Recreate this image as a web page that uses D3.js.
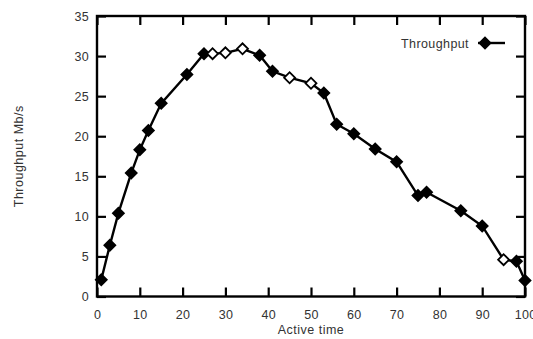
<!DOCTYPE html>
<html><head><meta charset="utf-8">
<script src="https://cdn.jsdelivr.net/npm/d3@7"></script>
<style>
body{margin:0;background:#fff;}
text{font-family:"Liberation Sans",Arial,sans-serif;fill:#333;}
</style></head>
<body><svg id="c" width="533" height="339"></svg>
<script>
const activeTime = [1,3,5,8,10,12,15,21,25,27,30,34,38,41,45,50,53,56,60,65,70,75,77,85,90,95,98,100];
const throughput = [2.1,6.4,10.4,15.4,18.3,20.7,24.1,27.7,30.3,30.3,30.4,30.9,30.1,28.1,27.3,26.6,25.4,21.5,20.3,18.4,16.8,12.6,13.0,10.7,8.8,4.6,4.4,2.0];
const openMarker = [false,false,false,false,false,false,false,false,false,true,true,true,false,false,true,true,false,false,false,false,false,false,false,false,false,true,false,false];
const xTicks = [0,10,20,30,40,50,60,70,80,90,100];
const yTicks = [0,5,10,15,20,25,30,35];
const seriesName = "Throughput";
const xTitle = "Active time";
const yTitle = "Throughput Mb/s";

const svg = d3.select("#c");
const L=97,R=525,T=16,B=296.5;
const x = d3.scaleLinear().domain([0,100]).range([L,R]);
const y = d3.scaleLinear().domain([0,35]).range([B,T]);
const tl = 9;

function styleAxis(g){
  g.select(".domain").remove();
  g.selectAll("line").attr("stroke","#000").attr("stroke-width",2.2);
  g.selectAll("text").attr("font-size","12.5px").attr("letter-spacing","0.3px").attr("fill","#333");
}
svg.append("g").attr("transform",`translate(0,${B})`)
  .call(d3.axisBottom(x).tickValues(xTicks).tickSize(-tl).tickPadding(14).tickFormat(d3.format("d")))
  .call(styleAxis);
svg.append("g").attr("transform",`translate(0,${T})`)
  .call(d3.axisTop(x).tickValues(xTicks).tickSize(-tl).tickFormat(""))
  .call(styleAxis);
svg.append("g").attr("transform",`translate(${L},0)`)
  .call(d3.axisLeft(y).tickValues(yTicks).tickSize(-tl).tickPadding(8).tickFormat(d3.format("d")))
  .call(styleAxis);
svg.append("g").attr("transform",`translate(${R},0)`)
  .call(d3.axisRight(y).tickValues(yTicks).tickSize(-tl).tickFormat(""))
  .call(styleAxis);
svg.append("rect").attr("x",L).attr("y",T).attr("width",R-L).attr("height",B-T)
  .attr("fill","none").attr("stroke","#000").attr("stroke-width",2.4);

const data = activeTime.map((t,i)=>({t,v:throughput[i],o:openMarker[i]}));
const line = d3.line().x(d=>x(d.t)).y(d=>y(d.v));
svg.append("path").datum(data).attr("d",line).attr("fill","none").attr("stroke","#000").attr("stroke-width",2.4);

const sym = d3.symbol().type(d3.symbolSquare).size(60);
svg.selectAll(".m").data(data).join("path")
  .attr("transform",d=>`translate(${x(d.t)},${y(d.v)}) rotate(45)`)
  .attr("d",sym)
  .attr("fill",d=>d.o?"#fff":"#000")
  .attr("stroke","#000").attr("stroke-width",1.8);

svg.append("text").attr("x",469).attr("y",47.5).attr("text-anchor","end")
  .attr("font-size","12.5px").attr("letter-spacing","0.4px").text(seriesName);
svg.append("line").attr("x1",478).attr("x2",505).attr("y1",43).attr("y2",43)
  .attr("stroke","#000").attr("stroke-width",2.4);
svg.append("path").attr("transform","translate(485,43) rotate(45)").attr("d",sym)
  .attr("fill","#000").attr("stroke","#000").attr("stroke-width",1.8);

svg.append("text").attr("x",(L+R)/2).attr("y",334).attr("text-anchor","middle")
  .attr("font-size","12.5px").attr("letter-spacing","0.5px").text(xTitle);
svg.append("text").attr("transform",`translate(23,${(T+B)/2}) rotate(-90)`).attr("text-anchor","middle")
  .attr("font-size","12.5px").attr("letter-spacing","0.5px").text(yTitle);
</script></body></html>
